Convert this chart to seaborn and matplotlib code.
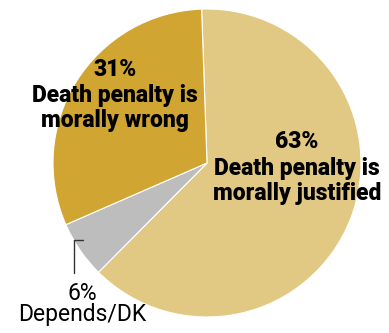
import matplotlib
matplotlib.use("Agg")
import matplotlib.pyplot as plt
import seaborn as sns

categories = ["Death penalty is\nmorally justified", "Depends/DK", "Death penalty is\nmorally wrong"]
shares = [63, 6, 31]
colors = ["#E2C983", "#BDBDBD", "#D1A531"]

sns.set_theme(style="white")
plt.rcParams["font.family"] = ["Roboto", "DejaVu Sans"]

W, H = 389, 333
fig = plt.figure(figsize=(W / 100, H / 100), dpi=100)
ax = fig.add_axes([0, 0, 1, 1])

cx, cy, r = 207, H - 163, 154
ax.pie(shares, colors=sns.color_palette(colors), startangle=92, counterclock=False,
       center=(cx, cy), radius=r, frame=True,
       wedgeprops=dict(linewidth=0.8, edgecolor="white"))
ax.set_xlim(0, W)
ax.set_ylim(0, H)
ax.set_aspect("equal")
ax.axis("off")

bold = dict(fontsize=16.5, fontweight="black", color="black", ha="center", va="center",
            linespacing=1.15)
ax.text(297, H - 142, f"{shares[0]}%", **bold)
ax.text(297, H - 181, categories[0], **bold)
ax.text(115, H - 70, f"{shares[2]}%", **bold)
ax.text(115, H - 108, categories[2], **bold)

ax.text(82, H - 293, f"{shares[1]}%", fontsize=16.5, color="black", ha="center", va="center")
ax.text(82, H - 315, categories[1], fontsize=16.5, color="black", ha="center", va="center")

ax.plot([74, 74, 83], [H - 273, H - 240, H - 240], color="#333333", lw=1)

fig.savefig("out.png", dpi=100)
